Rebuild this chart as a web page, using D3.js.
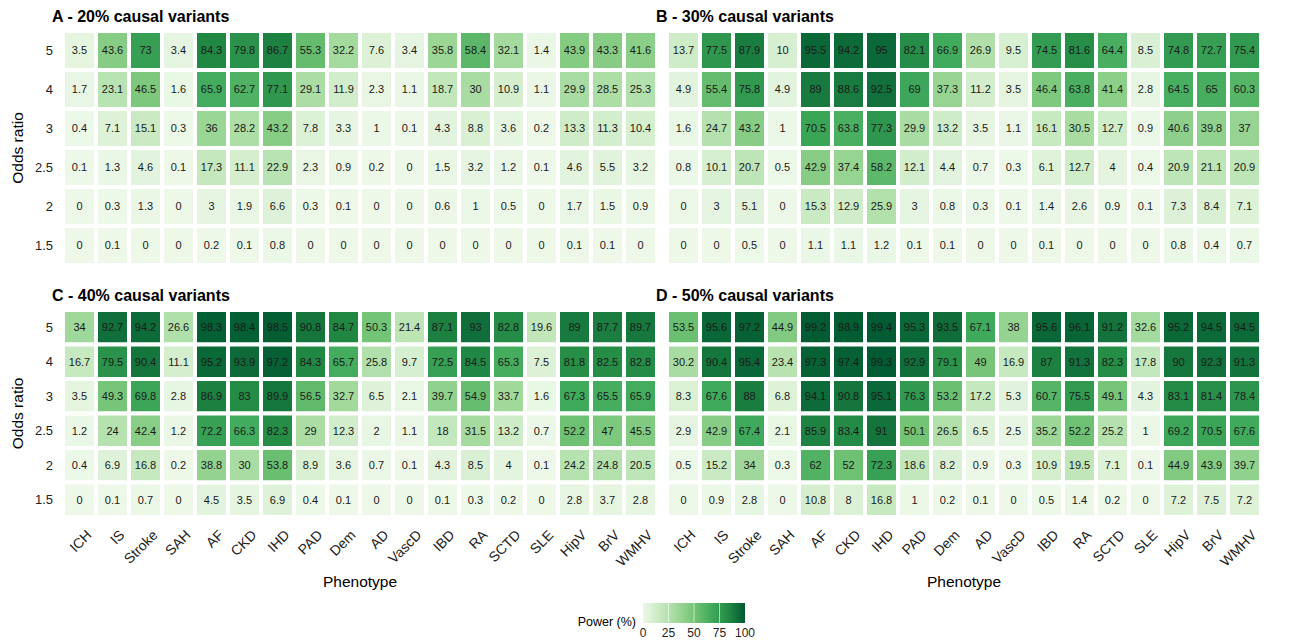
<!DOCTYPE html>
<html>
<head>
<meta charset="utf-8">
<script src="https://cdn.jsdelivr.net/npm/d3@7"></script>
<style>
  body { margin: 0; background: #fff; }
  svg text { font-family: Arial, "Liberation Sans", Helvetica, sans-serif; }
</style>
</head>
<body>
<div id="chart"></div>
<script>
// Phenotypes (x) and odds ratios (y, top to bottom)
const phenotypes = ["ICH", "IS", "Stroke", "SAH", "AF", "CKD", "IHD", "PAD", "Dem", "AD",
    "VascD", "IBD", "RA", "SCTD", "SLE", "HipV", "BrV", "WMHV"];
const oddsRatios = ["5", "4", "3", "2.5", "2", "1.5"];
const legendTicks = [0, 25, 50, 75, 100];
const panelTitles = ["A - 20% causal variants", "B - 30% causal variants",
    "C - 40% causal variants", "D - 50% causal variants"];

// power (%) per phenotype, rows in the order of oddsRatios
const powerA = [
    [3.5, 1.7, 0.4, 0.1, 0, 0], [43.6, 23.1, 7.1, 1.3, 0.3, 0.1], [73, 46.5, 15.1, 4.6, 1.3, 0],
    [3.4, 1.6, 0.3, 0.1, 0, 0], [84.3, 65.9, 36, 17.3, 3, 0.2], [79.8, 62.7, 28.2, 11.1, 1.9, 0.1],
    [86.7, 77.1, 43.2, 22.9, 6.6, 0.8], [55.3, 29.1, 7.8, 2.3, 0.3, 0], [32.2, 11.9, 3.3, 0.9, 0.1, 0],
    [7.6, 2.3, 1, 0.2, 0, 0], [3.4, 1.1, 0.1, 0, 0, 0], [35.8, 18.7, 4.3, 1.5, 0.6, 0],
    [58.4, 30, 8.8, 3.2, 1, 0], [32.1, 10.9, 3.6, 1.2, 0.5, 0], [1.4, 1.1, 0.2, 0.1, 0, 0],
    [43.9, 29.9, 13.3, 4.6, 1.7, 0.1], [43.3, 28.5, 11.3, 5.5, 1.5, 0.1], [41.6, 25.3, 10.4, 3.2, 0.9, 0]
];
const powerB = [
    [13.7, 4.9, 1.6, 0.8, 0, 0], [77.5, 55.4, 24.7, 10.1, 3, 0], [87.9, 75.8, 43.2, 20.7, 5.1, 0.5],
    [10, 4.9, 1, 0.5, 0, 0], [95.5, 89, 70.5, 42.9, 15.3, 1.1], [94.2, 88.6, 63.8, 37.4, 12.9, 1.1],
    [95, 92.5, 77.3, 58.2, 25.9, 1.2], [82.1, 69, 29.9, 12.1, 3, 0.1], [66.9, 37.3, 13.2, 4.4, 0.8, 0.1],
    [26.9, 11.2, 3.5, 0.7, 0.3, 0], [9.5, 3.5, 1.1, 0.3, 0.1, 0], [74.5, 46.4, 16.1, 6.1, 1.4, 0.1],
    [81.6, 63.8, 30.5, 12.7, 2.6, 0], [64.4, 41.4, 12.7, 4, 0.9, 0], [8.5, 2.8, 0.9, 0.4, 0.1, 0],
    [74.8, 64.5, 40.6, 20.9, 7.3, 0.8], [72.7, 65, 39.8, 21.1, 8.4, 0.4], [75.4, 60.3, 37, 20.9, 7.1, 0.7]
];
const powerC = [
    [34, 16.7, 3.5, 1.2, 0.4, 0], [92.7, 79.5, 49.3, 24, 6.9, 0.1], [94.2, 90.4, 69.8, 42.4, 16.8, 0.7],
    [26.6, 11.1, 2.8, 1.2, 0.2, 0], [98.3, 95.2, 86.9, 72.2, 38.8, 4.5], [98.4, 93.9, 83, 66.3, 30, 3.5],
    [98.5, 97.2, 89.9, 82.3, 53.8, 6.9], [90.8, 84.3, 56.5, 29, 8.9, 0.4], [84.7, 65.7, 32.7, 12.3, 3.6, 0.1],
    [50.3, 25.8, 6.5, 2, 0.7, 0], [21.4, 9.7, 2.1, 1.1, 0.1, 0], [87.1, 72.5, 39.7, 18, 4.3, 0.1],
    [93, 84.5, 54.9, 31.5, 8.5, 0.3], [82.8, 65.3, 33.7, 13.2, 4, 0.2], [19.6, 7.5, 1.6, 0.7, 0.1, 0],
    [89, 81.8, 67.3, 52.2, 24.2, 2.8], [87.7, 82.5, 65.5, 47, 24.8, 3.7], [89.7, 82.8, 65.9, 45.5, 20.5, 2.8]
];
const powerD = [
    [53.5, 30.2, 8.3, 2.9, 0.5, 0], [95.6, 90.4, 67.6, 42.9, 15.2, 0.9], [97.2, 95.4, 88, 67.4, 34, 2.8],
    [44.9, 23.4, 6.8, 2.1, 0.3, 0], [99.2, 97.3, 94.1, 85.9, 62, 10.8], [98.9, 97.4, 90.8, 83.4, 52, 8],
    [99.4, 99.3, 95.1, 91, 72.3, 16.8], [95.3, 92.9, 76.3, 50.1, 18.6, 1], [93.5, 79.1, 53.2, 26.5, 8.2, 0.2],
    [67.1, 49, 17.2, 6.5, 0.9, 0.1], [38, 16.9, 5.3, 2.5, 0.3, 0], [95.6, 87, 60.7, 35.2, 10.9, 0.5],
    [96.1, 91.3, 75.5, 52.2, 19.5, 1.4], [91.2, 82.3, 49.1, 25.2, 7.1, 0.2], [32.6, 17.8, 4.3, 1, 0.1, 0],
    [95.2, 90, 83.1, 69.2, 44.9, 7.2], [94.5, 92.3, 81.4, 70.5, 43.9, 7.5], [94.5, 91.3, 78.4, 67.6, 39.7, 7.2]
];

const width = 1303, height = 640;
const svg = d3.select("#chart").append("svg")
    .attr("width", width)
    .attr("height", height);

// Greens palette (7 brewer steps) interpolated in Lab
const greens = ["#edf8e9", "#c7e9c0", "#a1d99b", "#74c476", "#41ab5d", "#238b45", "#005a32"];
const color = d3.scaleLinear()
    .domain(d3.range(greens.length).map(i => i * 100 / (greens.length - 1)))
    .range(greens)
    .interpolate(d3.interpolateLab);

const panels = [
    { title: panelTitles[0], data: powerA, x0: 63, x1: 657, y0: 31, y1: 265, left: true, bottom: false },
    { title: panelTitles[1], data: powerB, x0: 667, x1: 1261, y0: 31, y1: 265, left: false, bottom: false },
    { title: panelTitles[2], data: powerC, x0: 63, x1: 657, y0: 310, y1: 517, left: true, bottom: true },
    { title: panelTitles[3], data: powerD, x0: 667, x1: 1261, y0: 310, y1: 517, left: false, bottom: true }
];

panels.forEach(p => {
    const x = d3.scaleBand().domain(phenotypes).range([p.x0, p.x1]);
    const y = d3.scaleBand().domain(oddsRatios).range([p.y0, p.y1]);
    const g = svg.append("g");

    const cells = [];
    phenotypes.forEach((ph, i) => {
        oddsRatios.forEach((or, j) => cells.push({ ph, or, v: p.data[i][j] }));
    });

    g.selectAll("rect")
        .data(cells)
        .join("rect")
        .attr("x", d => x(d.ph))
        .attr("y", d => y(d.or))
        .attr("width", x.bandwidth())
        .attr("height", y.bandwidth())
        .attr("fill", d => color(d.v))
        .attr("stroke", "#fff")
        .attr("stroke-width", 4);

    g.selectAll("text.val")
        .data(cells)
        .join("text")
        .attr("class", "val")
        .attr("x", d => x(d.ph) + x.bandwidth() / 2)
        .attr("y", d => y(d.or) + y.bandwidth() / 2)
        .attr("dy", "0.36em")
        .attr("text-anchor", "middle")
        .style("font-size", "11px")
        .style("fill", "#1a1a1a")
        .text(d => d.v);

    // panel title
    svg.append("text")
        .attr("x", p.x0 - 11)
        .attr("y", p.y0 - 9)
        .style("font-size", "16px")
        .style("font-weight", "bold")
        .style("fill", "#000")
        .text(p.title);

    if (p.left) {
        svg.append("g").selectAll("text")
            .data(oddsRatios)
            .join("text")
            .attr("x", p.x0 - 10)
            .attr("y", d => y(d) + y.bandwidth() / 2)
            .attr("dy", "0.36em")
            .attr("text-anchor", "end")
            .style("font-size", "13px")
            .style("fill", "#222")
            .text(d => d);

        svg.append("text")
            .attr("transform", `translate(23,${(p.y0 + p.y1) / 2}) rotate(-90)`)
            .attr("text-anchor", "middle")
            .style("font-size", "15.5px")
            .style("fill", "#000")
            .text("Odds ratio");
    }

    if (p.bottom) {
        svg.append("g").selectAll("text")
            .data(phenotypes)
            .join("text")
            .attr("transform", d => `translate(${x(d) + x.bandwidth() / 2 + 6},${p.y1 + 12}) rotate(-45)`)
            .attr("text-anchor", "end")
            .attr("dy", "0.7em")
            .style("font-size", "14px")
            .style("fill", "#222")
            .text(d => d);

        svg.append("text")
            .attr("x", (p.x0 + p.x1) / 2)
            .attr("y", 587)
            .attr("text-anchor", "middle")
            .style("font-size", "15.5px")
            .style("fill", "#000")
            .text("Phenotype");
    }
});

// Legend
const lx = d3.scaleLinear().domain([0, 100]).range([643, 745]);
const defs = svg.append("defs");
const grad = defs.append("linearGradient").attr("id", "powerGrad");
d3.range(0, 101, 5).forEach(v => {
    grad.append("stop").attr("offset", v + "%").attr("stop-color", color(v));
});
svg.append("rect")
    .attr("x", lx(0)).attr("y", 603)
    .attr("width", lx(100) - lx(0)).attr("height", 20)
    .attr("fill", "url(#powerGrad)");
svg.append("g").selectAll("line")
    .data(legendTicks.slice(1, -1))
    .join("line")
    .attr("x1", d => lx(d)).attr("x2", d => lx(d))
    .attr("y1", 603).attr("y2", 623)
    .attr("stroke", "#fff").attr("stroke-opacity", 0.6).attr("stroke-width", 1);
svg.append("g").selectAll("text")
    .data(legendTicks)
    .join("text")
    .attr("x", d => lx(d))
    .attr("y", 637)
    .attr("text-anchor", "middle")
    .style("font-size", "12px")
    .style("fill", "#222")
    .text(d => d);
svg.append("text")
    .attr("x", 636).attr("y", 626)
    .attr("text-anchor", "end")
    .style("font-size", "12.5px")
    .style("fill", "#000")
    .text("Power (%)");
</script>
</body>
</html>
